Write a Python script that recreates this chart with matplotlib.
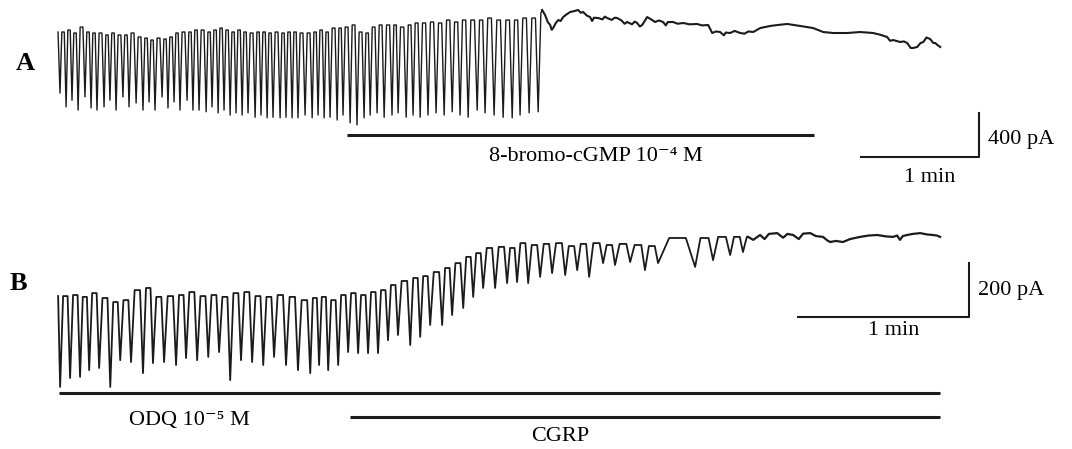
import numpy as np
import matplotlib.pyplot as plt

plt.rcParams["font.family"] = ["Liberation Serif", "DejaVu Serif"]

W, H = 1072, 449
INK = "#1b1b1b"

# ------------------------------------------------------------------ data, panel A (time s, current pA)
A_trough_t = [1.0, 4.1, 7.1, 10.2, 13.7, 16.8, 19.8, 23.4, 26.4, 29.5,
              33.0, 36.1, 39.7, 43.2, 46.3, 49.3, 52.9, 55.9, 59.0, 62.0,
              65.6, 68.6, 71.7, 75.3, 78.3, 81.4, 84.4, 87.5, 90.5, 93.6,
              96.6, 100.2, 103.2, 106.3, 109.3, 112.9, 115.9, 119.0, 122.0, 125.6,
              129.2, 132.2, 135.3, 138.3, 141.9, 144.9, 148.5, 152.0, 155.6, 158.7,
              162.2, 165.8, 169.8, 172.9, 177.0, 180.5, 184.1, 188.1, 192.2, 196.3,
              200.4, 204.4, 208.5, 213.1, 217.1, 221.7, 226.3, 230.9, 234.9, 239.5,
              244.1]
A_trough_i = [-755, -880, -820, -910, -790, -890, -910, -880, -820, -910,
              -790, -880, -845, -910, -835, -910, -790, -890, -835, -910,
              -820, -910, -910, -925, -880, -935, -910, -955, -935, -955,
              -935, -975, -955, -980, -975, -980, -975, -980, -980,
              -955, -980, -955, -980, -975, -1000, -955, -1025, -1045, -980,
              -955, -935, -975, -955, -935, -975, -955, -975, -955, -935,
              -955, -925, -955, -975, -910, -935, -955, -975, -980, -955,
              -935, -925]
A_peak_i = [-200, -182, -209, -155, -200, -209, -209, -227, -209, -227,
            -227, -209, -245, -255, -273, -255, -264, -245, -209, -200,
            -200, -182, -182, -200, -182, -164, -182, -200, -182, -200,
            -209, -200, -200, -209, -200, -209, -200, -200, -209,
            -209, -200, -182, -200, -164, -164, -155, -136, -200, -209,
            -155, -136, -136, -136, -155, -136, -118, -118, -109, -118,
            -91, -109, -91, -91, -91, -73, -91, -91, -91, -73,
            -73, -27]
A_flat_t = [246.1, 247.6, 249.0, 250.2, 251.0, 251.7, 253.0, 254.3, 255.5, 256.8,
            258.5, 260.4, 262.4, 264.4, 265.8, 267.0, 268.8, 270.5, 271.5, 272.5,
            274.6, 276.8, 278.0, 279.2, 281.5, 283.0, 284.3, 286.5, 288.0, 289.4,
            291.8, 293.2, 294.4, 295.8, 297.0, 299.5, 301.5, 303.6, 305.5, 307.6,
            309.0, 310.0, 312.7, 315.0, 317.8, 321.0, 324.9, 327.5, 330.5, 332.6,
            334.5, 336.6, 338.5, 339.5, 341.7, 344.0, 346.8, 349.0, 351.0, 353.4,
            357.0, 362.1, 366.5, 370.7, 377.3, 383.9, 389.0, 394.1, 401.2, 407.8,
            414.4, 418.0, 421.5, 423.0, 424.6, 428.2, 430.0, 431.7, 433.5, 434.8,
            436.8, 438.5, 439.9, 441.5, 443.4, 445.0, 446.0, 447.2, 448.5]
A_flat_i = [0, -45, -110, -136, -180, -164, -120, -91, -100, -64,
            -40, -18, -10, 0, -25, -18, -50, -64, -100, -70,
            -73, -85, -60, -73, -90, -70, -73, -95, -125, -109,
            -130, -105, -118, -150, -136, -64, -85, -109, -95, -109,
            -140, -110, -109, -125, -118, -130, -127, -140, -136, -209,
            -195, -200, -230, -205, -209, -190, -209, -215, -195, -200,
            -164, -145, -135, -127, -145, -164, -200, -209, -209, -200,
            -209, -225, -245, -280, -273, -291, -285, -300, -345, -345,
            -336, -300, -291, -250, -264, -300, -300, -320, -336]
A_start_i = -200
A_drug = (147.0, 384.4)  # 8-bromo-cGMP application, s

# ------------------------------------------------------------------ data, panel B (time s, current pA)
B_trough_t = [0.7, 4.2, 7.7, 10.9, 14.4, 18.3, 21.8, 25.6, 29.8, 33.3,
              37.2, 41.4, 44.9, 48.8, 52.7, 56.5, 60.4, 64.2, 68.1, 72.0,
              75.8, 80.0, 84.2, 88.5, 91.6, 94.8, 98.3, 101.8, 105.3, 108.8,
              112.3, 115.8, 119.3, 123.6, 127.1, 130.6, 134.8, 138.3, 142.2, 145.7,
              149.2, 153.4, 157.6, 161.1, 165.0, 169.2, 173.4, 178.0, 182.2, 186.4,
              191.3, 195.5, 200.8, 206.0, 210.6, 223.6, 229.9, 235.9, 240.4]
B_trough_i = [-562, -529, -525, -500, -492, -562, -463, -470, -511, -474,
              -470, -481, -455, -463, -451, -433, -537, -463, -470, -481,
              -451, -481, -500, -511, -481, -500, -481, -433, -437, -437,
              -437, -389, -370, -407, -377, -333, -333, -296, -270, -229,
              -196, -196, -178, -174, -178, -155, -141, -148, -130, -155,
              -104, -111, -100, -130, -104, -118, -93, -74, -63]
B_peak_i = [-226, -222, -229, -215, -233, -248, -241, -204, -196, -229,
            -226, -222, -211, -226, -222, -229, -215, -211, -226, -229,
            -222, -229, -241, -233, -229, -241, -222, -215, -222, -211,
            -204, -185, -170, -159, -152, -137, -122, -104, -81, -67,
            -48, -44, -48, -30, -37, -33, -30, -41, -33, -30,
            -37, -33, -37, -41, -11, -11, -7, -7, -7]
B_flat_t = [242.2, 244.0, 246.4, 248.0, 249.5, 252.4, 254.5, 256.0, 258.0, 260.0,
            261.5, 264.0, 266.0, 268.5, 270.0, 271.0, 273.0, 275.5, 278.0, 281.5,
            284.5, 287.5, 290.5, 293.1, 294.5, 295.5, 296.5, 298.0, 300.0, 302.6,
            305.0, 307.1, 308.5, 309.6]
B_flat_i = [-7, -18, 0, -15, 4, 7, -10, 4, 0, -15,
            5, 7, -4, -7, -20, -26, -22, -26, -15, -7,
            -2, 0, -5, -7, -2, -18, -4, 0, 4, 7,
            2, 0, -2, -7]
B_start_i = -226
B_odq = (0.35, 309.6)    # ODQ application, s
B_cgrp = (102.5, 309.6)  # CGRP application, s


def build_cycles(start_i, trough_t, trough_i, peak_i, rise, fall):
    xs, ys = [0.0], [start_i]
    n = len(trough_t)
    for k in range(n):
        t = trough_t[k]
        per = (trough_t[k + 1] - t) if k + 1 < n else (t - trough_t[k - 1])
        xs += [t, t + rise * per]
        ys += [trough_i[k], peak_i[k]]
        if k + 1 < n:
            xs.append(t + fall * per)
            ys.append(peak_i[k])
    return np.array(xs), np.array(ys)


def panel_axes(fig, top_px, bot_px, xlim, ylim):
    ax = fig.add_axes([0, 1 - bot_px / H, 1, (bot_px - top_px) / H])
    ax.set_xlim(*xlim)
    ax.set_ylim(*ylim)
    ax.set_axis_off()
    return ax


fig = plt.figure(figsize=(W / 100, H / 100), dpi=100)
fig.patch.set_facecolor("white")
tsize = 16

# ------------------------------------------------------------------ panel A
axA = panel_axes(fig, 0, 200, (-29.5, 515.5), (-1727, 91))
x, y = build_cycles(A_start_i, A_trough_t, A_trough_i, A_peak_i, 0.3, 0.7)
axA.plot(np.r_[x, A_flat_t[0]], np.r_[y, A_flat_i[0]], color=INK, lw=1.0,
         solid_joinstyle="round")
axA.plot(A_flat_t, A_flat_i, color=INK, lw=1.5, solid_joinstyle="round")
axA.plot(A_drug, [-1136, -1136], color=INK, lw=2.2, solid_capstyle="butt")
axA.text(273.6, -1336, "8-bromo-cGMP 10\u207b\u2074 M", ha="center", va="center", fontsize=tsize)
# scale bar: 1 min, 400 pA
axA.plot([408.3, 468.3, 468.3], [-1336, -1336, -936], color=INK, lw=1.5)
axA.text(472.9, -1173, "400 pA", ha="left", va="center", fontsize=tsize)
axA.text(443.4, -1518, "1 min", ha="center", va="center", fontsize=tsize)

# ------------------------------------------------------------------ panel B
axB = panel_axes(fig, 200, 449, (-20.4, 355.9), (-791.8, 129.5))
x, y = build_cycles(B_start_i, B_trough_t, B_trough_i, B_peak_i, 0.3, 0.75)
axB.plot(np.r_[x, B_flat_t[0]], np.r_[y, B_flat_i[0]], color=INK, lw=1.3,
         solid_joinstyle="round")
axB.plot(B_flat_t, B_flat_i, color=INK, lw=1.6, solid_joinstyle="round")
axB.plot(B_odq, [-585, -585], color=INK, lw=2.2, solid_capstyle="butt")
axB.plot(B_cgrp, [-673, -673], color=INK, lw=2.2, solid_capstyle="butt")
axB.text(46.0, -685, "ODQ 10\u207b\u2075 M", ha="center", va="center", fontsize=tsize)
axB.text(176.2, -747, "CGRP", ha="center", va="center", fontsize=tsize)
# scale bar: 1 min, 200 pA
axB.plot([259.8, 319.8, 319.8], [-303, -303, -103], color=INK, lw=1.5)
axB.text(322.9, -204, "200 pA", ha="left", va="center", fontsize=tsize)
axB.text(293.4, -352, "1 min", ha="center", va="center", fontsize=tsize)

fig.text(25 / W, 1 - 63 / H, "A", ha="center", va="center", fontsize=19, fontweight="bold")
fig.text(18 / W, 1 - 283 / H, "B", ha="center", va="center", fontsize=19, fontweight="bold")

fig.savefig("out.png", dpi=100, facecolor="white")
